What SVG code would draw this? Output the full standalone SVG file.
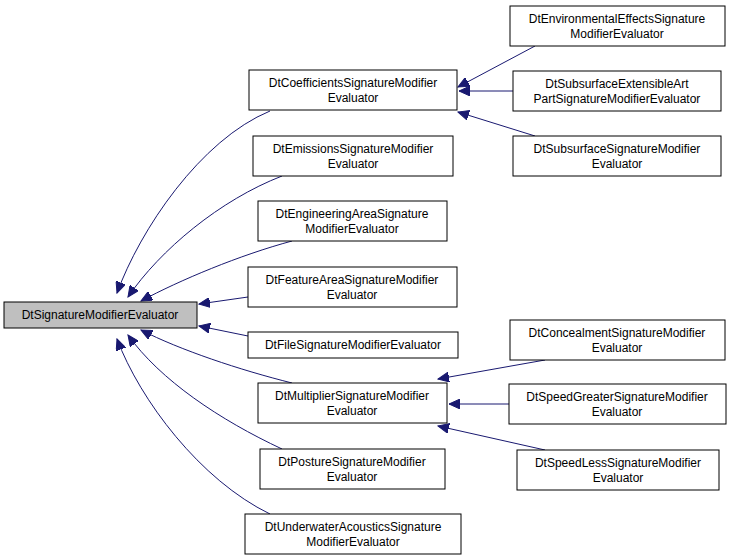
<svg xmlns="http://www.w3.org/2000/svg" width="733" height="560" viewBox="0 0 733 560">
<style>
rect{fill:#fff;stroke:#000;stroke-width:1}
text{font-family:"Liberation Sans",Arial,sans-serif;font-size:12px;text-anchor:middle;fill:#000}
.e{fill:none;stroke:#191970;stroke-width:1;marker-end:url(#a)}
</style>
<defs><marker id="a" markerWidth="12" markerHeight="10" refX="11" refY="5" orient="auto" markerUnits="userSpaceOnUse"><path d="M0,0L11,5L0,10Z" fill="#191970" stroke="#191970"/></marker></defs>
<rect width="733" height="560" style="stroke:none"/>
<g id="edges">
<path class="e" d="M270,111C200,140 140,230 117,293"/>
<path class="e" d="M282,176C220,200 160,250 128,297"/>
<path class="e" d="M292,241C240,255 180,280 141,301"/>
<path class="e" d="M248,297L199,304"/>
<path class="e" d="M248,336L199,326"/>
<path class="e" d="M292,383C240,370 180,350 141,330"/>
<path class="e" d="M282,449C220,420 160,380 128,335"/>
<path class="e" d="M270,514C200,480 140,400 117,339"/>
<path class="e" d="M535,46L458,87"/>
<path class="e" d="M513,91L459,91"/>
<path class="e" d="M535,136L458,112"/>
<path class="e" d="M545,360L438,379"/>
<path class="e" d="M509,404L449,404"/>
<path class="e" d="M545,450L438,426"/>
</g>
<g id="root"><rect x="4" y="302" width="193" height="26" style="fill:#bfbfbf"/><text x="100" y="319">DtSignatureModifierEvaluator</text></g>
<g id="coef"><rect x="249" y="70" width="208" height="40"/><text x="353" y="87">DtCoefficientsSignatureModifier</text><text x="353" y="102">Evaluator</text></g>
<g id="emis"><rect x="253" y="136" width="200" height="40"/><text x="353" y="153">DtEmissionsSignatureModifier</text><text x="353" y="168">Evaluator</text></g>
<g id="eng"><rect x="258" y="201" width="189" height="40"/><text x="352" y="218">DtEngineeringAreaSignature</text><text x="352" y="233">ModifierEvaluator</text></g>
<g id="feat"><rect x="248" y="267" width="209" height="40"/><text x="352" y="284">DtFeatureAreaSignatureModifier</text><text x="352" y="299">Evaluator</text></g>
<g id="file"><rect x="248" y="332" width="210" height="26"/><text x="353" y="349">DtFileSignatureModifierEvaluator</text></g>
<g id="mult"><rect x="258" y="383" width="189" height="40"/><text x="352" y="400">DtMultiplierSignatureModifier</text><text x="352" y="415">Evaluator</text></g>
<g id="post"><rect x="260" y="449" width="185" height="40"/><text x="352" y="466">DtPostureSignatureModifier</text><text x="352" y="481">Evaluator</text></g>
<g id="under"><rect x="245" y="514" width="216" height="40"/><text x="353" y="531">DtUnderwaterAcousticsSignature</text><text x="353" y="546">ModifierEvaluator</text></g>
<g id="env"><rect x="510" y="6" width="215" height="40"/><text x="617" y="23">DtEnvironmentalEffectsSignature</text><text x="617" y="38">ModifierEvaluator</text></g>
<g id="subext"><rect x="513" y="71" width="208" height="40"/><text x="617" y="88">DtSubsurfaceExtensibleArt</text><text x="617" y="103">PartSignatureModifierEvaluator</text></g>
<g id="sub"><rect x="513" y="136" width="208" height="40"/><text x="617" y="153">DtSubsurfaceSignatureModifier</text><text x="617" y="168">Evaluator</text></g>
<g id="conc"><rect x="510" y="320" width="215" height="40"/><text x="617" y="337">DtConcealmentSignatureModifier</text><text x="617" y="352">Evaluator</text></g>
<g id="sg"><rect x="509" y="384" width="217" height="40"/><text x="617" y="401">DtSpeedGreaterSignatureModifier</text><text x="617" y="416">Evaluator</text></g>
<g id="sl"><rect x="517" y="450" width="202" height="40"/><text x="618" y="467">DtSpeedLessSignatureModifier</text><text x="618" y="482">Evaluator</text></g>
</svg>
